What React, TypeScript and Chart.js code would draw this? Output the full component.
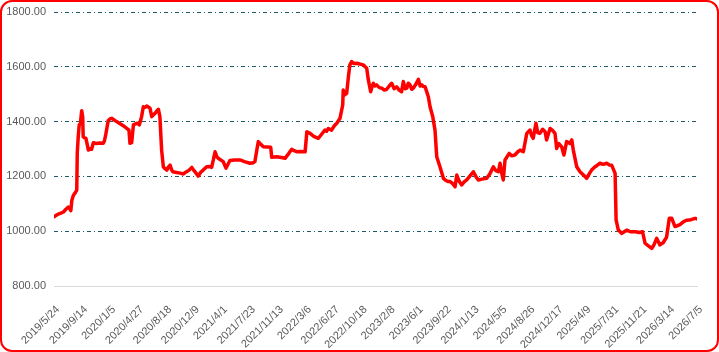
import React, { useEffect, useRef } from "react";
import { Chart, registerables } from "chart.js";

Chart.register(...registerables);

// Tick labels on the date axis (one every 113 days, starting 2019/5/24)
const tickLabels = [
  "2019/5/24", "2019/9/14", "2020/1/5", "2020/4/27", "2020/8/18", "2020/12/9",
  "2021/4/1", "2021/7/23", "2021/11/13", "2022/3/6", "2022/6/27", "2022/10/18",
  "2023/2/8", "2023/6/1", "2023/9/22", "2024/1/13", "2024/5/5", "2024/8/26",
  "2024/12/17", "2025/4/9", "2025/7/31", "2025/11/21", "2026/3/14", "2026/7/5",
];
const tickStepDays = 113;
const yTicks = [800, 1000, 1200, 1400, 1600, 1800];

// Days since 2019/5/24
const dayOffsets = [
  0, 8, 17, 28, 38, 48, 58, 64, 68, 72, 78, 85, 92, 94, 98, 102, 106, 108, 112, 116,
  118, 124, 129, 134, 139, 145, 152, 159, 170, 185, 199, 204, 210, 219, 226, 233, 253, 280, 303, 307,
  314, 321, 330, 337, 345, 350, 354, 361, 368, 375, 388, 395, 402, 408, 415, 422, 428, 435, 442, 449,
  456, 463, 469, 475, 480, 496, 510, 523, 530, 536, 545, 557, 565, 570, 583, 593, 603, 617, 630, 637,
  644, 651, 658, 664, 674, 684, 695, 711, 730, 752, 770, 792, 805, 812, 822, 826, 835, 846, 876, 880,
  900, 913, 925, 934, 950, 961, 970, 981, 1000, 1015, 1022, 1035, 1050, 1068, 1080, 1095, 1102, 1109, 1122, 1133,
  1143, 1156, 1167, 1169, 1176, 1183, 1190, 1196, 1203, 1212, 1224, 1236, 1250, 1264, 1270, 1280, 1286, 1291, 1297, 1304,
  1315, 1325, 1335, 1345, 1355, 1365, 1375, 1385, 1395, 1405, 1412, 1420, 1426, 1432, 1439, 1446, 1452, 1462, 1473, 1480,
  1486, 1493, 1500, 1508, 1513, 1520, 1531, 1540, 1547, 1560, 1574, 1584, 1594, 1601, 1610, 1621, 1628, 1638, 1648, 1658,
  1668, 1680, 1695, 1705, 1715, 1730, 1749, 1762, 1776, 1785, 1796, 1803, 1810, 1816, 1823, 1840, 1850, 1863, 1875, 1884,
  1897, 1911, 1924, 1930, 1937, 1948, 1955, 1964, 1975, 1985, 1991, 2000, 2005, 2015, 2025, 2032, 2040, 2052, 2061, 2072,
  2085, 2093, 2099, 2113, 2126, 2140, 2153, 2165, 2173, 2187, 2195, 2207, 2220, 2234, 2245, 2254, 2268, 2272, 2281, 2295,
  2305, 2315, 2330, 2352, 2365, 2379, 2389, 2400, 2416, 2425, 2436, 2449, 2462, 2476, 2487, 2497, 2510, 2520, 2530, 2545,
  2557, 2575, 2591, 2599,
];

const values = [
  1052, 1058, 1062, 1066, 1070, 1080, 1088, 1082, 1075, 1112, 1130, 1139, 1150, 1285, 1345, 1388, 1392, 1405, 1440, 1418,
  1345, 1340, 1339, 1318, 1296, 1300, 1299, 1323, 1320, 1322, 1321, 1330, 1357, 1403, 1410, 1412, 1400, 1385, 1369, 1321,
  1323, 1388, 1392, 1394, 1388, 1405, 1418, 1454, 1452, 1457, 1449, 1418, 1425, 1430, 1438, 1445, 1418, 1296, 1235, 1228,
  1223, 1235, 1241, 1225, 1217, 1214, 1212, 1209, 1214, 1217, 1222, 1233, 1222, 1217, 1201, 1215, 1223, 1235, 1236, 1233,
  1260, 1290, 1272, 1266, 1260, 1254, 1230, 1258, 1260, 1260, 1254, 1248, 1250, 1254, 1308, 1327, 1318, 1308, 1306, 1270,
  1272, 1270, 1268, 1266, 1285, 1299, 1294, 1290, 1291, 1290, 1363, 1357, 1346, 1339, 1352, 1369, 1365, 1375, 1369, 1385,
  1394, 1412, 1461, 1515, 1498, 1503, 1564, 1607, 1619, 1612, 1613, 1610, 1607, 1595, 1555, 1509, 1530, 1540, 1530, 1534,
  1524, 1522, 1515, 1518, 1530, 1540, 1520, 1527, 1515, 1509, 1546, 1520, 1522, 1540, 1534, 1518, 1522, 1535, 1554, 1530,
  1534, 1528, 1527, 1505, 1491, 1454, 1418, 1369, 1272, 1235, 1193, 1185, 1181, 1181, 1175, 1162, 1205, 1182, 1169, 1180,
  1187, 1200, 1217, 1200, 1187, 1190, 1193, 1210, 1235, 1222, 1217, 1248, 1210, 1187, 1260, 1284, 1275, 1278, 1290, 1296,
  1290, 1357, 1369, 1350, 1339, 1394, 1360, 1357, 1372, 1363, 1333, 1360, 1375, 1368, 1357, 1302, 1320, 1308, 1278, 1327,
  1320, 1333, 1296, 1235, 1217, 1205, 1193, 1212, 1223, 1235, 1240, 1248, 1244, 1248, 1242, 1241, 1211, 1041, 1004, 992,
  998, 1004, 998, 998, 995, 998, 956, 948, 937, 950, 974, 950, 958, 978, 1047, 1047, 1017, 1020, 1024, 1035,
  1040, 1042, 1047, 1045,
];

const FONT = { family: "'Liberation Sans', Arial, sans-serif", size: 11 };

export default function App() {
  const ref = useRef<HTMLCanvasElement>(null);

  useEffect(() => {
    document.body.style.margin = "0";
    const canvas = ref.current;
    if (!canvas) return;
    const chart = new Chart(canvas, {
      type: "line",
      data: {
        datasets: [
          {
            data: dayOffsets.map((d, i) => ({ x: d, y: values[i] })),
            borderColor: "#FF0000",
            borderWidth: 3.5,
            pointRadius: 0,
            tension: 0,
            borderJoinStyle: "round",
            borderCapStyle: "round",
          },
        ],
      },
      options: {
        responsive: false,
        animation: false,
        layout: { padding: { top: 10, right: 20, left: 0, bottom: 0 } },
        plugins: { legend: { display: false }, tooltip: { enabled: false } },
        scales: {
          x: {
            type: "linear",
            min: 0,
            max: tickStepDays * (tickLabels.length - 1),
            afterBuildTicks: (s: any) => {
              s.ticks = tickLabels.map((_, i) => ({ value: i * tickStepDays }));
            },
            afterFit: (s: any) => {
              s.height = 64;
              s.paddingLeft = 0;
              s.paddingRight = 0;
            },
            grid: { display: false, drawTicks: false },
            border: { display: true, color: "#D9D9D9", width: 1 },
            ticks: {
              autoSkip: false,
              minRotation: 45,
              maxRotation: 45,
              padding: 17,
              labelOffset: 4,
              color: "#595959",
              font: FONT,
              callback: (_v: any, i: number) => tickLabels[i],
            },
          },
          y: {
            min: 800,
            max: 1800,
            afterBuildTicks: (s: any) => {
              s.ticks = yTicks.map((v) => ({ value: v }));
            },
            afterFit: (s: any) => {
              s.width = 52;
              s.paddingTop = 0;
              s.paddingBottom = 0;
            },
            grid: {
              color: (ctx: any) =>
                ctx.tick && ctx.tick.value === 800 ? "rgba(0,0,0,0)" : "#1F5A68",
              lineWidth: 1,
              drawTicks: false,
            },
            border: { display: false, dash: [4, 3, 1, 3] },
            ticks: {
              padding: 8,
              color: "#595959",
              font: FONT,
              callback: (v: any) => Number(v).toFixed(2),
            },
          },
        },
      },
    });
    return () => chart.destroy();
  }, []);

  return (
    <div
      style={{
        position: "absolute",
        left: 0,
        top: 0,
        width: 719,
        height: 352,
        boxSizing: "border-box",
        border: "2px solid #FF0000",
        borderRadius: 12,
        background: "#ffffff",
        overflow: "hidden",
      }}
    >
      <canvas ref={ref} width={715} height={348} style={{ display: "block" }} />
    </div>
  );
}
